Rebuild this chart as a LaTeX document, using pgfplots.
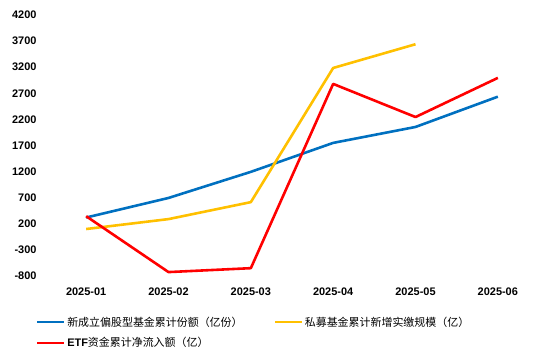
\documentclass[border=0pt]{standalone}
\usepackage{fontspec}
\setmainfont{Liberation Sans}
\newfontfamily\cjk{Noto Sans CJK SC}
\usepackage{pgfplots}
\pgfplotsset{compat=1.18}
\definecolor{cblue}{RGB}{0,112,192}
\definecolor{cyellow}{RGB}{255,192,0}
\definecolor{cred}{RGB}{255,0,0}
\begin{document}
\begin{tikzpicture}
\path[use as bounding box] (0,0) rectangle (554bp,358bp);
\begin{axis}[
  at={(45bp,82bp)}, anchor=south west,
  scale only axis, width=494bp, height=261bp,
  xmin=-0.5, xmax=5.5, ymin=-800, ymax=4200,
  xtick={0,1,2,3,4,5},
  xticklabels={2025-01,2025-02,2025-03,2025-04,2025-05,2025-06},
  ytick={-800,-300,200,700,1200,1700,2200,2700,3200,3700,4200},
  yticklabels={-800,-300,200,700,1200,1700,2200,2700,3200,3700,4200},
  axis line style={draw=none}, major tick length=0pt,
  ticklabel style={font=\bfseries\fontsize{11}{13}\selectfont},
  yticklabel style={xshift=-5bp},
  xticklabel style={yshift=-8bp},
  clip=false,
  legend columns=2,
  legend cell align=left,
  legend style={at={(-12bp,-37bp)}, anchor=north west, draw=none, fill=none,
    font=\fontsize{11}{13}\selectfont, row sep=7bp,
    nodes={inner sep=1.5bp, text width=205bp}},
  legend image code/.code={\draw[#1, line width=2.6pt] (0bp,0bp) -- (27bp,0bp);},
  every axis plot/.append style={line width=2.6pt, line join=round},
]
\addplot[cblue, no marks] coordinates {(0,320) (1,695) (2,1195) (3,1750) (4,2055) (5,2635)};
\addlegendentry{\cjk 新成立偏股型基金累计份额（亿份）}
\addplot[cyellow, no marks] coordinates {(0,100) (1,290) (2,615) (3,3185) (4,3640)};
\addlegendentry{\cjk 私募基金累计新增实缴规模（亿）}
\addplot[cred, no marks] coordinates {(0,345) (1,-725) (2,-650) (3,2880) (4,2245) (5,2995)};
\addlegendentry{{\bfseries ETF}{\cjk 资金累计净流入额（亿）}}
\end{axis}
\end{tikzpicture}
\end{document}
